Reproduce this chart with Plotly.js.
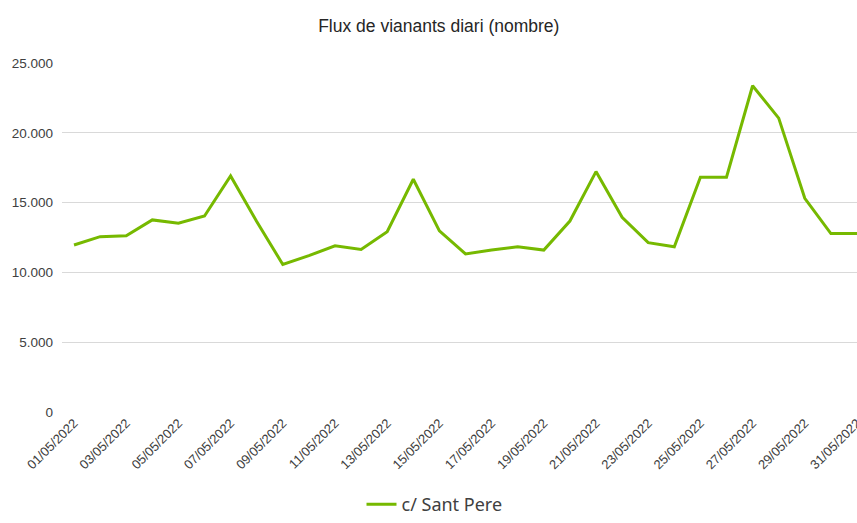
<!DOCTYPE html>
<html>
<head>
<meta charset="utf-8">
<script src="https://cdn.plot.ly/plotly-3.0.1.min.js"></script>
<style>html,body{margin:0;padding:0;background:#fff;}#chart{width:857px;height:523px;}</style>
</head>
<body>
<div id="chart"></div>
<script>
const dates = ["01/05/2022","02/05/2022","03/05/2022","04/05/2022","05/05/2022","06/05/2022","07/05/2022","08/05/2022","09/05/2022","10/05/2022","11/05/2022","12/05/2022","13/05/2022","14/05/2022","15/05/2022","16/05/2022","17/05/2022","18/05/2022","19/05/2022","20/05/2022","21/05/2022","22/05/2022","23/05/2022","24/05/2022","25/05/2022","26/05/2022","27/05/2022","28/05/2022","29/05/2022","30/05/2022","31/05/2022"];
const santPere = [11960,12560,12630,13760,13520,14040,16910,13640,10570,11200,11910,11650,12920,16670,12970,11320,11600,11840,11600,13680,17220,13950,12130,11840,16820,16820,23370,21050,15310,12780,12780];
const tickDates = dates.filter((d, i) => i % 2 === 0);
const yTicks = [0, 5000, 10000, 15000, 20000, 25000];
const seriesName = "c/ Sant Pere";

const trace = {
  x: dates, y: santPere, type: "scatter", mode: "lines", name: seriesName,
  line: {color: "#76b900", width: 3}
};
const layout = {
  width: 857, height: 523,
  margin: {l: 62, r: 0, t: 63, b: 111},
  paper_bgcolor: "#fff", plot_bgcolor: "#fff",
  separators: ",.",
  font: {family: "Liberation Sans, Arial, sans-serif", color: "#404040", size: 13},
  title: {text: "Flux de vianants diari (nombre)", font: {size: 17.5, color: "#262626"}, x: 0.512, xref: "container", xanchor: "center", y: 0.951, yref: "container", yanchor: "middle"},
  showlegend: true,
  legend: {orientation: "h", x: 0.507, xref: "container", xanchor: "center", y: 0.0, yref: "container", yanchor: "bottom", font: {size: 18, color: "#404040", family: "Noto Sans, sans-serif"}},
  xaxis: {type: "category", range: [-0.46, 30], tickmode: "array", tickvals: tickDates, ticktext: tickDates, tickangle: -45, showgrid: false, zeroline: false, showline: false, ticks: "", tickfont: {size: 13, color: "#404040"}},
  yaxis: {range: [0, 25000], tickmode: "array", tickvals: yTicks, tickformat: ",d", showgrid: true, gridcolor: "#d9d9d9", gridwidth: 1, zeroline: false, showline: false, ticks: "", ticklabelstandoff: 8, tickfont: {size: 13.5, color: "#404040"}}
};
Plotly.newPlot("chart", [trace], layout, {displayModeBar: false, staticPlot: true});
</script>
</body>
</html>
